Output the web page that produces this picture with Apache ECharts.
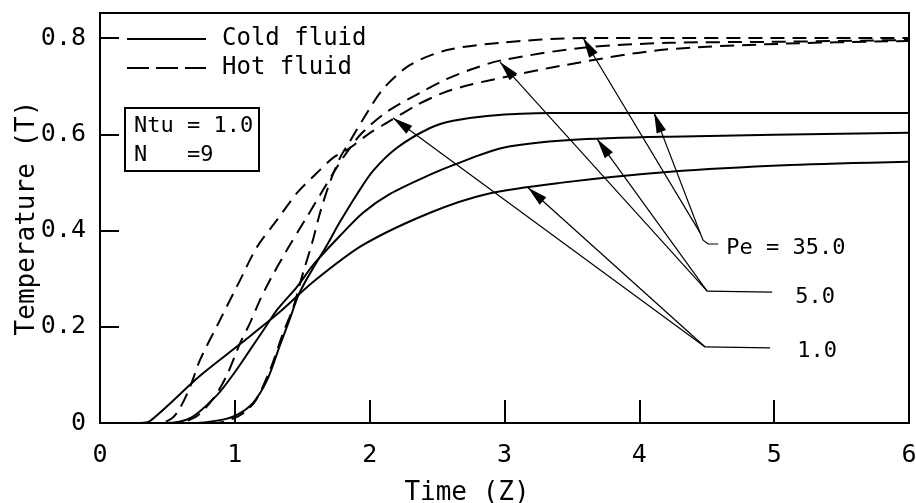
<!DOCTYPE html>
<html>
<head>
<meta charset="utf-8">
<title>Temperature vs time</title>
<script src="https://cdn.jsdelivr.net/npm/echarts@6/dist/echarts.min.js"></script>
<style>
html, body { margin: 0; padding: 0; background: #fff; }
#main { width: 916px; height: 503px; }
</style>
</head>
<body>
<div id="main"></div>
<script>
// curves, [Z, T]
var coldPe35 = [[0,0],[0.668,0],[0.890,0.006],[1.016,0.017],[1.135,0.042],[1.239,0.089],[1.335,0.162],[1.410,0.218],[1.469,0.264],[1.521,0.293],[1.573,0.318],[1.684,0.370],[1.780,0.418],[1.907,0.476],[2.025,0.524],[2.203,0.572],[2.448,0.613],[2.619,0.628],[2.871,0.638],[3.338,0.644],[6,0.644]];
var coldPe5 = [[0,0],[0.482,0],[0.668,0.010],[0.868,0.058],[1.001,0.106],[1.113,0.152],[1.224,0.198],[1.313,0.235],[1.461,0.283],[1.580,0.328],[1.780,0.389],[1.951,0.437],[2.151,0.476],[2.448,0.516],[2.619,0.536],[2.990,0.572],[3.487,0.588],[4.228,0.595],[6,0.603]];
var coldPe1 = [[0,0],[0.297,0],[0.371,0.004],[0.742,0.098],[1.039,0.164],[1.335,0.231],[1.580,0.293],[1.951,0.370],[2.448,0.437],[2.871,0.476],[3.412,0.499],[4.228,0.522],[5.119,0.536],[6,0.543]];
var hotPe35 = [[0,0],[0.853,0],[0.979,0.008],[1.076,0.023],[1.157,0.048],[1.261,0.110],[1.358,0.187],[1.432,0.239],[1.506,0.312],[1.573,0.374],[1.632,0.437],[1.706,0.501],[1.780,0.551],[1.855,0.586],[1.966,0.638],[2.099,0.694],[2.300,0.744],[2.574,0.775],[2.967,0.790],[3.583,0.800],[6,0.800]];
var hotPe5 = [[0,0],[0.556,0],[0.705,0.012],[0.838,0.050],[0.942,0.100],[1.039,0.166],[1.113,0.208],[1.187,0.256],[1.261,0.297],[1.387,0.360],[1.521,0.422],[1.654,0.484],[1.758,0.532],[1.832,0.563],[1.944,0.603],[2.129,0.647],[2.374,0.686],[2.574,0.715],[2.745,0.734],[2.967,0.753],[3.583,0.780],[4.228,0.790],[4.970,0.792],[6,0.796]];
var hotPe1 = [[0,0],[0.445,0],[0.534,0.010],[0.593,0.031],[0.668,0.075],[0.742,0.131],[0.890,0.214],[1.039,0.297],[1.165,0.366],[1.313,0.422],[1.461,0.478],[1.610,0.520],[1.728,0.551],[1.855,0.572],[2.003,0.603],[2.129,0.624],[2.352,0.661],[2.545,0.686],[2.745,0.703],[3.042,0.721],[3.412,0.742],[4.154,0.775],[5.045,0.788],[6,0.794]];

var xTickLabels = ['0', '1', '2', '3', '4', '5', '6'];
var yTickLabels = ['0', '0.2', '0.4', '0.6', '0.8'];

// Pe labels and the arrows pointing at their curves
var peLabels = ['Pe = 35.0', '5.0', '1.0'];
var peLabelPos = [[4.644, 0.372], [5.156, 0.270], [5.171, 0.158]];
var peJoints = [[4.451, 0.395], [4.503, 0.274], [4.488, 0.158]];
var peTargets = [
	[[3.583, 0.800], [4.110, 0.644]],
	[[2.967, 0.750], [3.687, 0.590]],
	[[2.174, 0.634], [3.175, 0.489]]
];
var peLeaders = [
	[[4.451, 0.395], [4.473, 0.380], [4.510, 0.372], [4.585, 0.372]],
	[[4.503, 0.274], [4.985, 0.272]],
	[[4.488, 0.158], [4.970, 0.156]]
];

var font = 'DejaVu Sans Mono';
var dash = [14, 8];
var headSize = [10, 20];
var headPath = 'path://M5,0 L10,20 L0,20 Z';

var leaderData = [];
var arrowData = [];
for (var k = 0; k < peLeaders.length; k++) {
	leaderData.push({coords: peLeaders[k]});
	for (var m = 0; m < peTargets[k].length; m++) {
		arrowData.push({coords: [peJoints[k], peTargets[k][m]]});
	}
}

function curve(name, data, dashed) {
	return {
		name: name,
		type: 'line',
		data: data,
		symbol: 'none',
		smooth: 0.3,
		lineStyle: {color: '#000', width: 2, type: dashed ? dash : 'solid'},
		itemStyle: {color: '#000'},
		z: 3
	};
}

var myChart = echarts.init(document.getElementById('main'));

var option = {
	animation: false,
	backgroundColor: '#fff',
	grid: {
		left: 100, right: 7, top: 13, bottom: 80,
		outerBoundsMode: 'none',
		show: true, borderColor: '#000', borderWidth: 2
	},
	legend: {
		orient: 'vertical',
		left: 126,
		top: 27,
		padding: 0,
		itemWidth: 79,
		itemHeight: 14,
		itemGap: 5,
		itemStyle: {color: 'transparent', borderWidth: 0},
		textStyle: {fontFamily: font, fontSize: 24, color: '#000', padding: [0, 0, 0, 11]},
		data: [
			{name: 'Cold fluid'},
			{name: 'Hot fluid', lineStyle: {type: [22, 7]}}
		]
	},
	xAxis: {
		type: 'value',
		min: 0, max: 6, interval: 1,
		name: 'Time (Z)',
		nameLocation: 'middle',
		nameGap: 57,
		nameMoveOverlap: false,
		nameTextStyle: {fontFamily: font, fontSize: 26, color: '#000', padding: [0, 75, 0, 0]},
		axisLine: {lineStyle: {color: '#000', width: 2}},
		axisTick: {inside: true, length: 23, lineStyle: {color: '#000', width: 2}},
		axisLabel: {
			margin: 20, fontFamily: font, fontSize: 25, color: '#000',
			formatter: function (v) { return xTickLabels[Math.round(v)]; }
		},
		splitLine: {show: false}
	},
	yAxis: {
		type: 'value',
		min: 0, max: 0.852, interval: 0.2,
		name: 'Temperature (T)',
		nameLocation: 'middle',
		nameGap: 60,
		nameMoveOverlap: false,
		nameTextStyle: {fontFamily: font, fontSize: 26, color: '#000'},
		axisLine: {lineStyle: {color: '#000', width: 2}},
		axisTick: {inside: true, length: 19, lineStyle: {color: '#000', width: 2}},
		axisLabel: {
			margin: 14, fontFamily: font, fontSize: 25, color: '#000', showMaxLabel: false,
			formatter: function (v) { return yTickLabels[Math.round(v / 0.2)] || ''; }
		},
		splitLine: {show: false}
	},
	graphic: [
		{
			type: 'rect',
			shape: {x: 125, y: 108, width: 134, height: 63},
			style: {fill: 'none', stroke: '#000', lineWidth: 2}
		},
		{
			type: 'text', x: 134, y: 115,
			style: {text: 'Ntu = 1.0', font: '22px "DejaVu Sans Mono"', fill: '#000'}
		},
		{
			type: 'text', x: 134, y: 144,
			style: {text: 'N   =9', font: '22px "DejaVu Sans Mono"', fill: '#000'}
		}
	],
	series: [
		curve('Cold fluid', coldPe35, false),
		curve('Cold fluid', coldPe5, false),
		curve('Cold fluid', coldPe1, false),
		curve('Hot fluid', hotPe35, true),
		curve('Hot fluid', hotPe5, true),
		curve('Hot fluid', hotPe1, true),
		{
			type: 'lines',
			coordinateSystem: 'cartesian2d',
			data: arrowData,
			symbol: 'none',
			lineStyle: {color: '#000', width: 1.2, curveness: 0, opacity: 1},
			z: 4
		},
		{
			type: 'lines',
			coordinateSystem: 'cartesian2d',
			polyline: true,
			data: leaderData,
			symbol: 'none',
			lineStyle: {color: '#000', width: 1.2, opacity: 1},
			z: 4
		},
		{
			id: 'heads',
			type: 'scatter',
			data: [],
			symbol: headPath,
			symbolSize: headSize,
			symbolKeepAspect: false,
			itemStyle: {color: '#000', opacity: 1},
			z: 5
		},
		{
			type: 'scatter',
			data: peLabelPos,
			symbolSize: 0,
			itemStyle: {color: '#000', opacity: 1},
			label: {
				show: true, position: 'right', distance: 0, offset: [0, 4],
				fontFamily: font, fontSize: 22, color: '#000', opacity: 1,
				formatter: function (p) { return peLabels[p.dataIndex]; }
			},
			z: 5
		}
	]
};

myChart.setOption(option);

// arrow heads: turn each along its line and put the tip on the target curve
var headData = [];
for (var i = 0; i < peJoints.length; i++) {
	var a = myChart.convertToPixel({gridIndex: 0}, peJoints[i]);
	for (var j = 0; j < peTargets[i].length; j++) {
		var b = myChart.convertToPixel({gridIndex: 0}, peTargets[i][j]);
		var dx = b[0] - a[0], dy = b[1] - a[1];
		var len = Math.sqrt(dx * dx + dy * dy);
		var angle = Math.atan2(-dy, dx) * 180 / Math.PI - 90;
		var half = headSize[1] / 2;
		headData.push({
			value: peTargets[i][j],
			symbolRotate: angle,
			symbolOffset: [-dx / len * half, -dy / len * half]
		});
	}
}
myChart.setOption({series: [{id: 'heads', data: headData}]});
</script>
</body>
</html>
